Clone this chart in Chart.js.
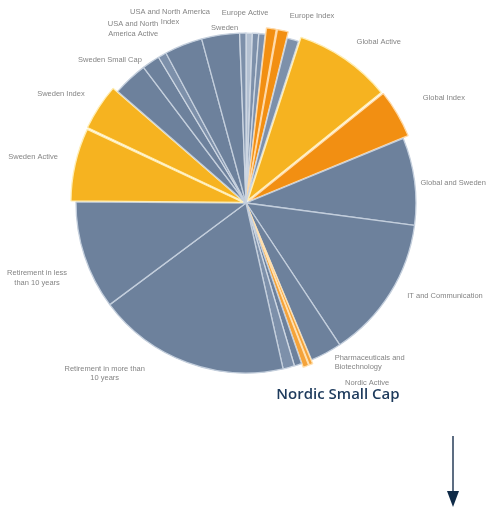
<!DOCTYPE html>
<html>
<head>
<meta charset="utf-8">
<script src="https://cdn.jsdelivr.net/npm/chart.js@4/dist/chart.umd.min.js"></script>
<style>
  html, body { margin: 0; padding: 0; background: #fff; }
  #wrap { position: relative; width: 486px; height: 509px; overflow: hidden; }
  #pie { position: absolute; left: 0; top: 0; }
  #callout {
    position: absolute; left: 272px; top: 383px; width: 132px; text-align: center;
    font: 600 15px "Open Sans", "Noto Sans", sans-serif; color: #1d3a5c; white-space: nowrap;
  }
  #arrow { position: absolute; left: 440px; top: 436px; }
</style>
</head>
<body>
<div id="wrap">
  <canvas id="pie" width="486" height="509"></canvas>
  <div id="callout">Nordic Small Cap</div>
  <svg id="arrow" width="26" height="73">
    <line x1="13" y1="0" x2="13" y2="58" stroke="#5d6d82" stroke-width="2"/>
    <polygon points="7,55 19,55 13,71" fill="#0f2a47"/>
  </svg>
</div>
<script>
// slices clockwise from the top, share of total (%)
const categories = [
  '', '', '', 'Europe Active', 'Europe Index', '',
  'Global Active', 'Global Index', 'Global and Sweden', 'IT and Communication',
  'Pharmaceuticals and\nBiotechnology', 'Nordic Active', 'Nordic Small Cap', '', '',
  'Retirement in more than\n10 years', 'Retirement in less\nthan 10 years',
  'Sweden Active', 'Sweden Index', 'Sweden Small Cap', 'USA and North\nAmerica Active', '',
  'USA and North America\nIndex', 'Sweden', ''
];
const shares = [
  0.6, 0.6, 0.6, 1.0, 1.1, 1.1,
  9.2, 4.6, 8.3, 13.6,
  3.0, 0.4, 0.6, 0.7, 1.1,
  18.3, 10.3,
  6.9, 4.4, 3.3, 1.7, 0.8,
  3.6, 3.6, 0.6
];
// which slices are pulled out of the pie
const exploded = [
  0, 0, 0, 1, 1, 0,
  1, 1, 0, 0,
  0, 1, 1, 0, 0,
  0, 0,
  1, 1, 0, 0, 0,
  0, 0, 0
];
const groups = [
  'l', 'm', 'm', 'o', 'o', 'm',
  'y', 'o', 'g', 'g',
  'g', 'n', 'n', 'g', 'm',
  'g', 'g',
  'y', 'y', 'g', 'g', 'm',
  'g', 'g', 'm'
];

const palette = { g: '#6d819c', m: '#7d90aa', l: '#b4c1d2', y: '#f6b320', o: '#f28f12', n: '#f4a33a' };
const borders = { g: '#c3cedc', m: '#cdd6e2', l: '#dde4ec', y: '#ffeeb5', o: '#ffd9a6', n: '#ffe0b0' };

// label alignment and small nudges, keyed by first line of the label
const labelPlace = {
  'Europe Active': ['center', -29, 3],
  'Europe Index': ['left', 3, 4],
  'Global Active': ['left', 0, 0],
  'Global Index': ['left', 9, -6],
  'Global and Sweden': ['left', -6, 3],
  'IT and Communication': ['left', 7, -4],
  'Pharmaceuticals and': ['left', 3, -1],
  'Nordic Active': ['left', 28, 4],
  'Retirement in more than': ['center', -78, 0],
  'Retirement in less': ['center', -36, 18],
  'Sweden Active': ['right', 2, -3],
  'Sweden Index': ['right', 2, -3],
  'Sweden Small Cap': ['right', 20, -10],
  'USA and North': ['right', 14, -23],
  'USA and North America': ['center', -9, -17],
  'Sweden': ['center', 6, 5]
};

const sliceLabels = {
  id: 'sliceLabels',
  afterDatasetsDraw(chart) {
    const ctx = chart.ctx;
    const meta = chart.getDatasetMeta(0);
    const offs = chart.data.datasets[0].offset;
    ctx.save();
    ctx.font = '7.5px "Liberation Sans", Arial, sans-serif';
    ctx.fillStyle = '#858585';
    ctx.textBaseline = 'middle';
    meta.data.forEach((arc, i) => {
      const text = categories[i];
      if (!text || text === 'Nordic Small Cap') return;
      const p = arc.getProps(['x', 'y', 'startAngle', 'endAngle', 'outerRadius'], true);
      const mid = (p.startAngle + p.endAngle) / 2;
      const r = p.outerRadius + offs[i] + 12;
      const lines = text.split('\n');
      const place = labelPlace[lines[0]] || ['center', 0, 0];
      const x = p.x + Math.cos(mid) * r + place[1];
      const y = p.y + Math.sin(mid) * r + place[2];
      ctx.textAlign = place[0];
      lines.forEach((ln, k) => {
        ctx.fillText(ln, x, y + (k - (lines.length - 1) / 2) * 9.5);
      });
    });
    ctx.restore();
  }
};

new Chart(document.getElementById('pie'), {
  type: 'pie',
  data: {
    labels: categories,
    datasets: [{
      data: shares,
      backgroundColor: groups.map(g => palette[g]),
      borderColor: groups.map(g => borders[g]),
      borderWidth: 1.3,
      offset: exploded.map((e, i) => e ? (groups[i] === 'n' ? 8 : 13) : 0)
    }]
  },
  options: {
    responsive: false,
    animation: false,
    radius: 170,
    layout: { padding: { left: 60, right: 54, top: 20, bottom: 123 } },
    plugins: { legend: { display: false }, tooltip: { enabled: false } }
  },
  plugins: [sliceLabels]
});
</script>
</body>
</html>
